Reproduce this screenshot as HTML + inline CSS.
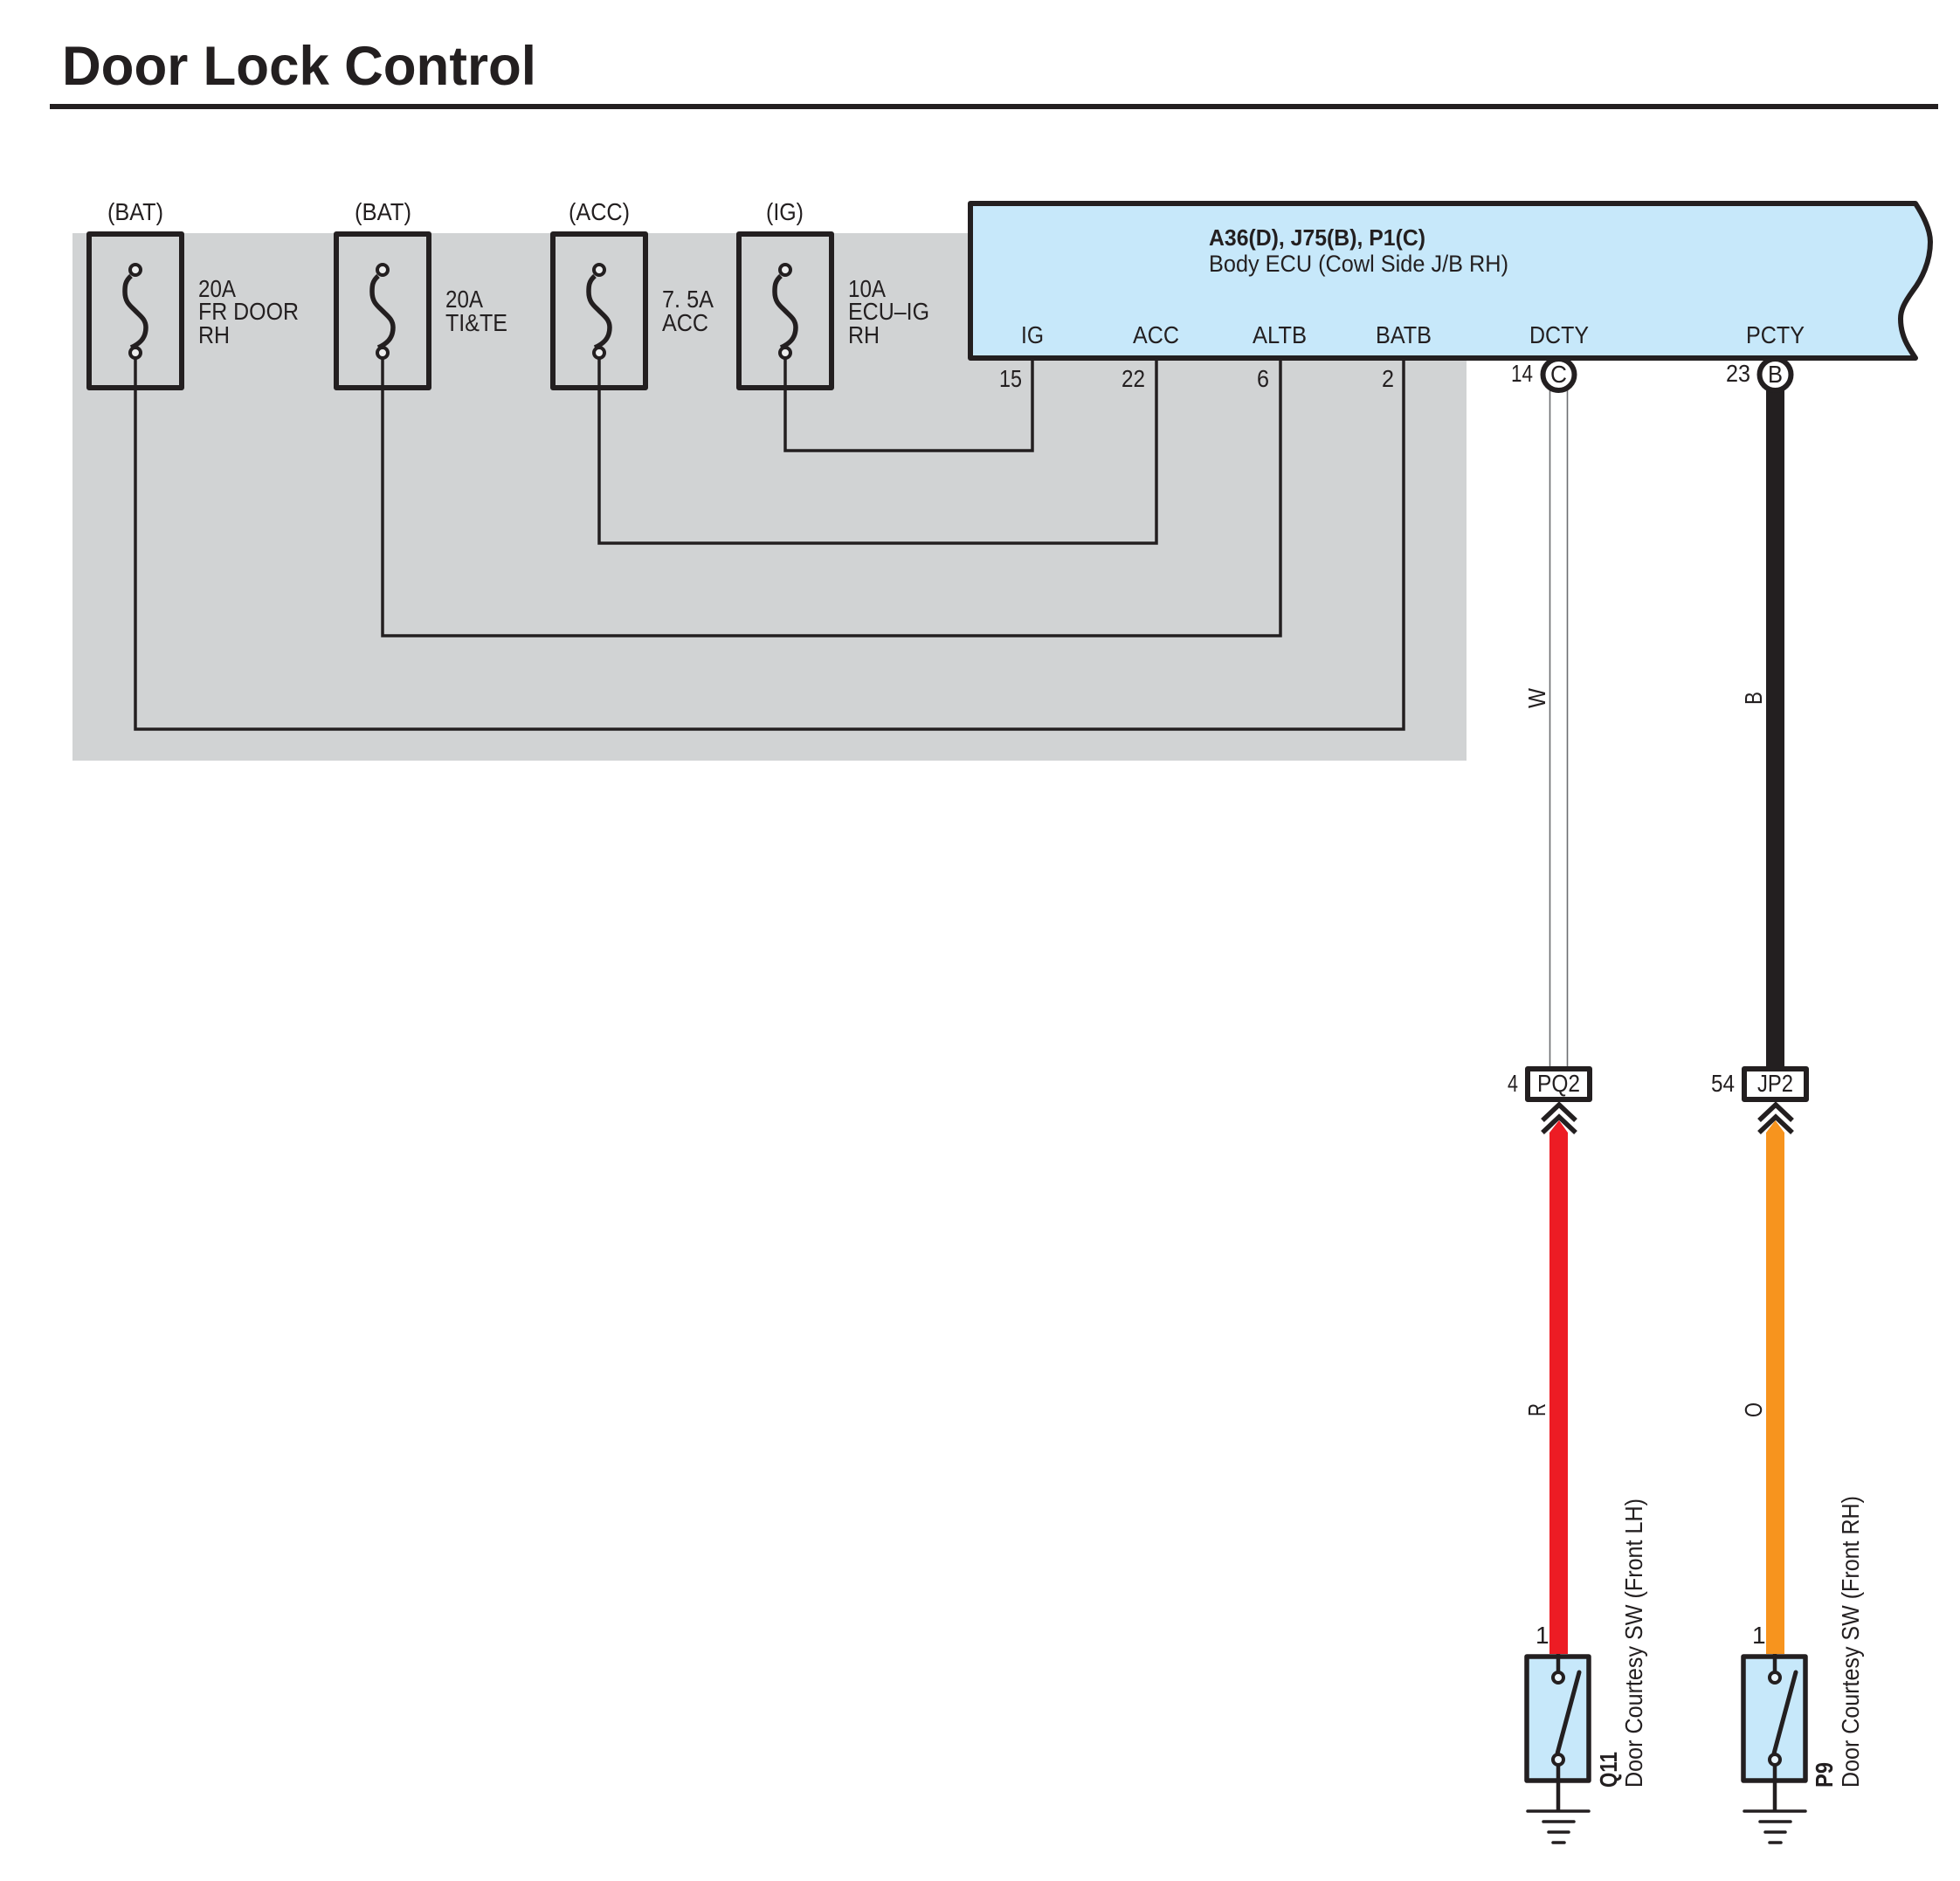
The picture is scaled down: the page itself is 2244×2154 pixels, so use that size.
<!DOCTYPE html>
<html>
<head>
<meta charset="utf-8">
<title>Door Lock Control</title>
<style>
html,body{margin:0;padding:0;background:#fff;}
svg{display:block;}
text{font-family:"Liberation Sans",Arial,sans-serif;fill:#231F20;font-size:28px;}
</style>
</head>
<body>
<svg xmlns="http://www.w3.org/2000/svg" width="2244" height="2154" viewBox="0 0 2244 2154">
<defs>
<g id="fuse">
<path d="M-5 316 C-12 322 -12 328 -12 334 C-12 346 -6 350 0 356 C6 362 12 366 12 375 C12 388 4 394 -5 398" fill="none" stroke="#231F20" stroke-width="5.5"/>
<circle cx="0" cy="309" r="6" fill="#EDEEEE" stroke="#231F20" stroke-width="4"/>
<circle cx="0" cy="404" r="6" fill="#EDEEEE" stroke="#231F20" stroke-width="4"/>
<rect x="-53" y="268" width="106" height="176" fill="none" stroke="#231F20" stroke-width="6" stroke-linejoin="round"/>
</g>
<g id="switch">
<rect x="-36" y="1897" width="71" height="142" fill="#C7E8FA" stroke="#231F20" stroke-width="5.5" stroke-linejoin="round"/>
<path d="M0 1894V1915M0 2021V2074" fill="none" stroke="#231F20" stroke-width="4.5"/>
<circle cx="0" cy="1921" r="6" fill="#EAF6FD" stroke="#231F20" stroke-width="4"/>
<path d="M-1 2008L24 1915" fill="none" stroke="#231F20" stroke-width="5" stroke-linecap="round"/>
<circle cx="0" cy="2015" r="6" fill="#EAF6FD" stroke="#231F20" stroke-width="4"/>
<path d="M-35 2074H35M-17 2086H18M-11 2098H12M-6 2110H7" fill="none" stroke="#231F20" stroke-width="3.5" stroke-linecap="round"/>
</g>
</defs>

<rect x="83" y="267" width="1596" height="604" fill="#D1D3D4"/>

<text x="71" y="97" style="font-size:63px;font-weight:bold" textLength="543" lengthAdjust="spacingAndGlyphs">Door Lock Control</text>
<rect x="57" y="119" width="2162" height="6" fill="#231F20"/>

<!-- Wires in grey area -->
<g fill="none" stroke="#231F20" stroke-width="3.5">
<path d="M155 410V835H1607V413"/>
<path d="M438 410V728H1466V413"/>
<path d="M686 410V622H1324V413"/>
<path d="M899 410V516H1182V413"/>
</g>

<!-- Fuses -->
<use href="#fuse" x="155"/>
<use href="#fuse" x="438"/>
<use href="#fuse" x="686"/>
<use href="#fuse" x="899"/>

<text x="123" y="252" textLength="64" lengthAdjust="spacingAndGlyphs">(BAT)</text>
<text x="406" y="252" textLength="65" lengthAdjust="spacingAndGlyphs">(BAT)</text>
<text x="651" y="252" textLength="70" lengthAdjust="spacingAndGlyphs">(ACC)</text>
<text x="877" y="252" textLength="43" lengthAdjust="spacingAndGlyphs">(IG)</text>

<text x="227" y="340" textLength="43" lengthAdjust="spacingAndGlyphs">20A</text>
<text x="227" y="366" textLength="115" lengthAdjust="spacingAndGlyphs">FR DOOR</text>
<text x="227" y="393" textLength="36" lengthAdjust="spacingAndGlyphs">RH</text>

<text x="510" y="352" textLength="43" lengthAdjust="spacingAndGlyphs">20A</text>
<text x="510" y="379" textLength="71" lengthAdjust="spacingAndGlyphs">TI&amp;TE</text>

<text x="758" y="352" textLength="59" lengthAdjust="spacingAndGlyphs">7. 5A</text>
<text x="758" y="379" textLength="53" lengthAdjust="spacingAndGlyphs">ACC</text>

<text x="971" y="340" textLength="43" lengthAdjust="spacingAndGlyphs">10A</text>
<text x="971" y="366" textLength="93" lengthAdjust="spacingAndGlyphs">ECU–IG</text>
<text x="971" y="393" textLength="36" lengthAdjust="spacingAndGlyphs">RH</text>

<!-- ECU -->
<path d="M1111 233H2193C2204 250 2210 265 2210 277C2210 300 2200 320 2190 333C2180 347 2176 355 2176 365C2176 385 2185 398 2193 410H1111Z" fill="#C7E8FA" stroke="#231F20" stroke-width="6" stroke-linejoin="round"/>
<text x="1384" y="281" style="font-size:26px;font-weight:bold" textLength="248" lengthAdjust="spacingAndGlyphs">A36(D), J75(B), P1(C)</text>
<text x="1384" y="311" style="font-size:27px" textLength="343" lengthAdjust="spacingAndGlyphs">Body ECU (Cowl Side J/B RH)</text>

<text x="1169" y="393" textLength="26" lengthAdjust="spacingAndGlyphs">IG</text>
<text x="1297" y="393" textLength="53" lengthAdjust="spacingAndGlyphs">ACC</text>
<text x="1434" y="393" textLength="62" lengthAdjust="spacingAndGlyphs">ALTB</text>
<text x="1575" y="393" textLength="64" lengthAdjust="spacingAndGlyphs">BATB</text>
<text x="1751" y="393" textLength="68" lengthAdjust="spacingAndGlyphs">DCTY</text>
<text x="1999" y="393" textLength="67" lengthAdjust="spacingAndGlyphs">PCTY</text>

<text x="1144" y="443" textLength="26" lengthAdjust="spacingAndGlyphs">15</text>
<text x="1284" y="443" textLength="27" lengthAdjust="spacingAndGlyphs">22</text>
<text x="1439" y="443" textLength="14" lengthAdjust="spacingAndGlyphs">6</text>
<text x="1582" y="443" textLength="14" lengthAdjust="spacingAndGlyphs">2</text>
<text x="1730" y="437" textLength="25" lengthAdjust="spacingAndGlyphs">14</text>
<text x="1976" y="437" textLength="28" lengthAdjust="spacingAndGlyphs">23</text>

<!-- Wires -->
<rect x="1774" y="446" width="21" height="776" fill="#fff"/>
<path d="M1774.5 446V1222M1794.5 446V1222" stroke="#6D6E71" stroke-width="1.6" fill="none"/>
<rect x="2022" y="446" width="21" height="776" fill="#231F20"/>

<path d="M1774 1297L1785 1283L1795 1297V1894H1774Z" fill="#ED1C24"/>
<path d="M2022 1297L2032.5 1283L2043 1297V1894H2022Z" fill="#F7941E"/>

<!-- Pin circles -->
<circle cx="1784.5" cy="429" r="18" fill="#fff" stroke="#231F20" stroke-width="6"/>
<circle cx="2032.5" cy="429" r="18" fill="#fff" stroke="#231F20" stroke-width="6"/>
<text x="1775" y="438" textLength="19" lengthAdjust="spacingAndGlyphs">C</text>
<text x="2024" y="438" textLength="17" lengthAdjust="spacingAndGlyphs">B</text>

<!-- Wire colour labels -->
<text transform="translate(1769 811) rotate(-90)" textLength="23" lengthAdjust="spacingAndGlyphs">W</text>
<text transform="translate(2017 807) rotate(-90)" textLength="15" lengthAdjust="spacingAndGlyphs">B</text>
<text transform="translate(1769 1622) rotate(-90)" textLength="15" lengthAdjust="spacingAndGlyphs">R</text>
<text transform="translate(2017 1623) rotate(-90)" textLength="17" lengthAdjust="spacingAndGlyphs">O</text>

<!-- Connectors -->
<rect x="1749" y="1224" width="71" height="35" fill="#fff" stroke="#231F20" stroke-width="6" stroke-linejoin="round"/>
<rect x="1997" y="1224" width="71" height="35" fill="#fff" stroke="#231F20" stroke-width="6" stroke-linejoin="round"/>
<text x="1760" y="1250" textLength="49" lengthAdjust="spacingAndGlyphs">PQ2</text>
<text x="2012" y="1250" textLength="41" lengthAdjust="spacingAndGlyphs">JP2</text>
<text x="1726" y="1250" textLength="12" lengthAdjust="spacingAndGlyphs">4</text>
<text x="1959" y="1250" textLength="27" lengthAdjust="spacingAndGlyphs">54</text>

<!-- Chevrons -->
<g fill="none" stroke="#231F20" stroke-width="5.5">
<path d="M1766 1283L1785 1265L1804 1283M1766 1297L1785 1279L1804 1297"/>
<path d="M2014 1283L2033 1265L2052 1283M2014 1297L2033 1279L2052 1297"/>
</g>

<!-- Switches -->
<use href="#switch" x="1784"/>
<use href="#switch" x="2032"/>

<text x="1758" y="1882">1</text>
<text x="2006" y="1882">1</text>

<text transform="translate(1851 2047) rotate(-90)" style="font-weight:bold" textLength="41" lengthAdjust="spacingAndGlyphs">Q11</text>
<text transform="translate(1880 2047) rotate(-90)" textLength="331" lengthAdjust="spacingAndGlyphs">Door Courtesy SW (Front LH)</text>
<text transform="translate(2098 2047) rotate(-90)" style="font-weight:bold" textLength="29" lengthAdjust="spacingAndGlyphs">P9</text>
<text transform="translate(2128 2047) rotate(-90)" textLength="334" lengthAdjust="spacingAndGlyphs">Door Courtesy SW (Front RH)</text>
</svg>
</body>
</html>
